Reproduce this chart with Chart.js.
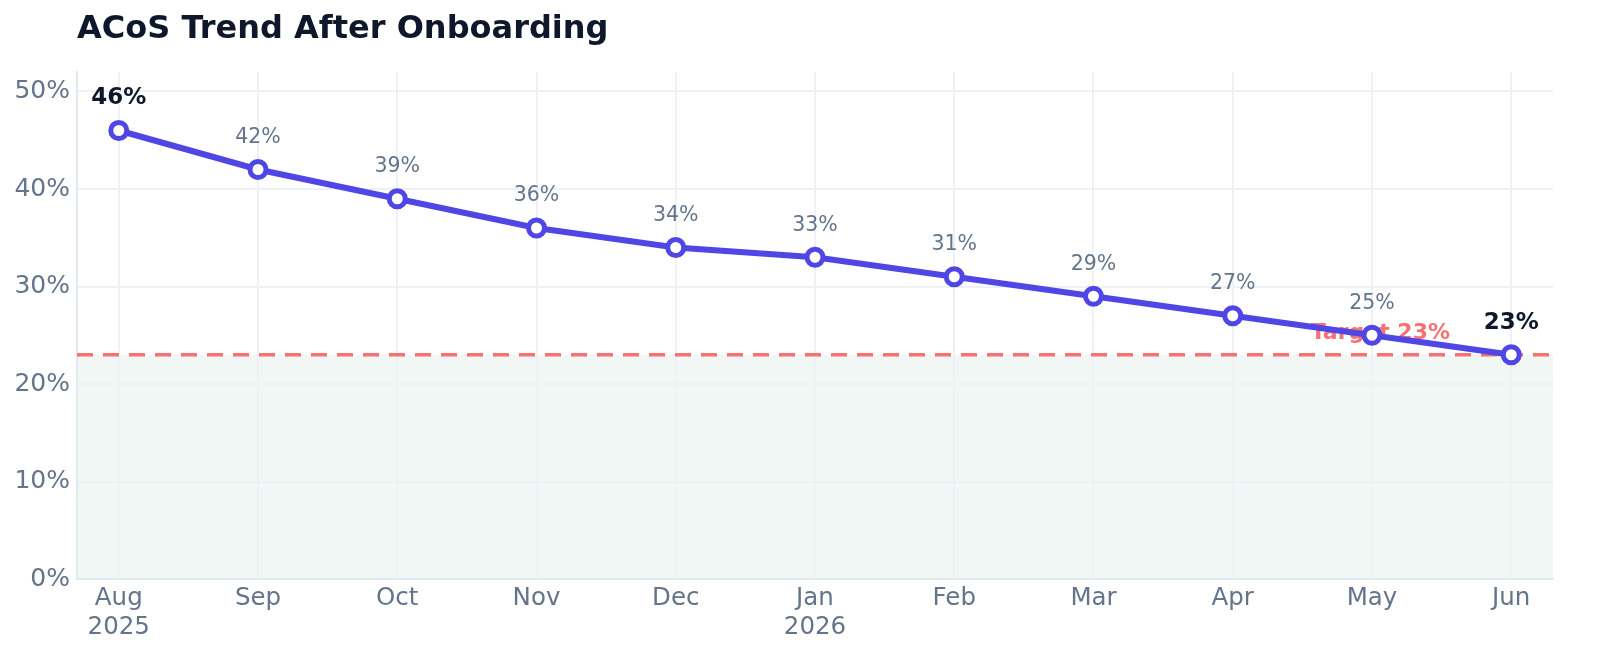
<!DOCTYPE html>
<html>
<head>
<meta charset="utf-8">
<script src="https://cdn.jsdelivr.net/npm/chart.js@4"></script>
<style>
  html, body { margin: 0; padding: 0; background: #ffffff; }
  #wrap { width: 1600px; height: 668px; position: relative; }
</style>
</head>
<body>
<div id="wrap"><canvas id="c" width="1600" height="668"></canvas></div>
<script>
const chartTitle = 'ACoS Trend After Onboarding';
const months = ['Aug', 'Sep', 'Oct', 'Nov', 'Dec', 'Jan', 'Feb', 'Mar', 'Apr', 'May', 'Jun'];
const years = ['2025', '', '', '', '', '2026', '', '', '', '', ''];
const acos = [46, 42, 39, 36, 34, 33, 31, 29, 27, 25, 23];
const targetValue = 23;
const targetLabel = 'Target 23%';
const yTickValues = [0, 10, 20, 30, 40, 50];

const FONT = "'DejaVu Sans', sans-serif";
const INDIGO = '#4f46e5';
const CORAL = '#f87171';
const MUTED = '#64748b';
const DARK = '#0f172a';

const points = acos.map((v, i) => ({ x: i, y: v }));

const decorPlugin = {
  id: 'decor',
  beforeDraw(chart) {
    const { ctx, chartArea: a, scales: { x, y } } = chart;
    const yt = y.getPixelForValue(targetValue);
    const y0 = y.getPixelForValue(0);
    ctx.save();
    ctx.fillStyle = '#f1f7f4';
    ctx.fillRect(a.left, yt, a.right - a.left, y0 - yt);
    ctx.restore();
    // title
    ctx.save();
    ctx.font = "bold 32px " + FONT;
    ctx.fillStyle = DARK;
    ctx.textAlign = 'left';
    ctx.textBaseline = 'middle';
    ctx.fillText(chartTitle, a.left, 30);
    ctx.restore();
  },
  beforeDatasetsDraw(chart) {
    const { ctx, chartArea: a, scales: { x, y } } = chart;
    const yt = y.getPixelForValue(targetValue);
    ctx.save();
    ctx.strokeStyle = CORAL;
    ctx.lineWidth = 3.5;
    ctx.setLineDash([16, 10]);
    ctx.beginPath();
    ctx.moveTo(a.left, yt);
    ctx.lineTo(a.right, yt);
    ctx.stroke();
    ctx.setLineDash([]);
    ctx.font = "bold 22px " + FONT;
    ctx.fillStyle = CORAL;
    ctx.textAlign = 'center';
    ctx.textBaseline = 'middle';
    ctx.fillText(targetLabel, x.getPixelForValue(9.06), yt - 21);
    ctx.restore();
  },
  afterDatasetsDraw(chart) {
    const { ctx, scales: { x, y } } = chart;
    ctx.save();
    ctx.textAlign = 'center';
    ctx.textBaseline = 'middle';
    acos.forEach((v, i) => {
      const edge = (i === 0 || i === acos.length - 1);
      ctx.font = (edge ? 'bold 23px ' : '20.5px ') + FONT;
      ctx.fillStyle = edge ? DARK : MUTED;
      ctx.fillText(v + '%', x.getPixelForValue(i), y.getPixelForValue(v) - 32);
    });
    ctx.restore();
  }
};

new Chart(document.getElementById('c'), {
  type: 'line',
  data: {
    datasets: [{
      data: points,
      borderColor: INDIGO,
      borderWidth: 6,
      backgroundColor: '#ffffff',
      pointBackgroundColor: '#ffffff',
      pointBorderColor: INDIGO,
      pointBorderWidth: 5,
      pointRadius: 8,
      pointHoverRadius: 8,
      tension: 0,
      fill: false
    }]
  },
  options: {
    responsive: false,
    animation: false,
    devicePixelRatio: 1,
    layout: { padding: { top: 72, right: 47, bottom: 0, left: 0 } },
    plugins: {
      legend: { display: false },
      tooltip: { enabled: false },
      title: { display: false }
    },
    scales: {
      x: {
        type: 'linear',
        min: -0.3,
        max: 10.3,
        afterBuildTicks(scale) {
          scale.ticks = months.map((m, i) => ({ value: i }));
        },
        afterFit(scale) { scale.height = 89; },
        ticks: {
          autoSkip: false,
          maxRotation: 0,
          padding: 5,
          color: MUTED,
          font: { family: FONT, size: 24.5, lineHeight: 1.2 },
          callback(value) {
            const i = Math.round(value);
            return years[i] ? [months[i], years[i]] : months[i];
          }
        },
        grid: { color: '#eef1f6', lineWidth: 2, drawTicks: false },
        border: { color: '#e2e8f0', width: 2 }
      },
      y: {
        min: 0,
        max: 52,
        afterBuildTicks(scale) {
          scale.ticks = yTickValues.map(v => ({ value: v }));
        },
        afterFit(scale) { scale.width = 77; },
        ticks: {
          padding: 7,
          color: MUTED,
          font: { family: FONT, size: 25 },
          callback(value) { return value + '%'; }
        },
        grid: { color: '#eef1f6', lineWidth: 2, drawTicks: false },
        border: { color: '#e2e8f0', width: 2 }
      }
    }
  },
  plugins: [decorPlugin]
});
</script>
</body>
</html>
